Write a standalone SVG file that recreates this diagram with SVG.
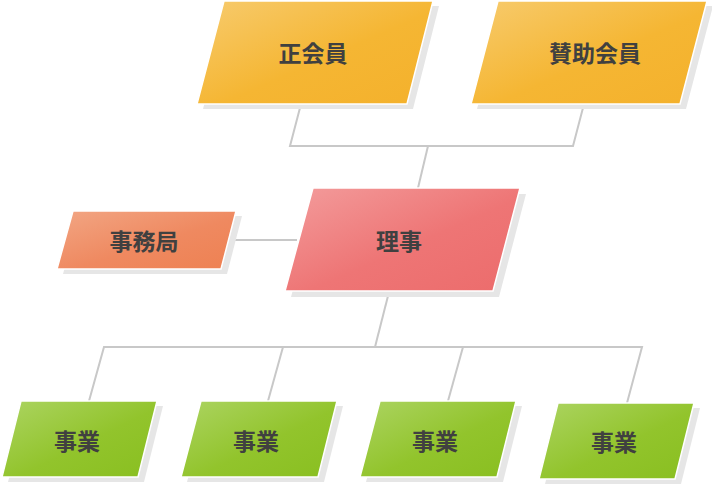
<svg xmlns="http://www.w3.org/2000/svg" width="712" height="485" viewBox="0 0 712 485">
<defs>
<linearGradient id="gY" x1="0" y1="0" x2="1" y2="1"><stop offset="0" stop-color="#f7cb6e"/><stop offset="0.55" stop-color="#f5b633"/><stop offset="1" stop-color="#f4b12c"/></linearGradient>
<linearGradient id="gR" x1="0" y1="0" x2="1" y2="1"><stop offset="0" stop-color="#f39c9c"/><stop offset="0.55" stop-color="#ee7575"/><stop offset="1" stop-color="#ec6c6c"/></linearGradient>
<linearGradient id="gO" x1="0" y1="0" x2="1" y2="1"><stop offset="0" stop-color="#f2a684"/><stop offset="0.55" stop-color="#ef8960"/><stop offset="1" stop-color="#ee8152"/></linearGradient>
<linearGradient id="gG" x1="0" y1="0" x2="1" y2="1"><stop offset="0" stop-color="#acd462"/><stop offset="0.55" stop-color="#92c42c"/><stop offset="1" stop-color="#89bf20"/></linearGradient>
</defs>
<style>
.sh{fill:#e6e6e6}
.bx{stroke:#ffffff;stroke-width:1.5}
.t{font-family:"Noto Sans CJK JP","Noto Sans",sans-serif;font-weight:bold;font-size:23px;fill:#404040;text-anchor:middle;dominant-baseline:central}
.c{fill:none;stroke:#c8c8c8;stroke-width:2}
</style>
<g id="connectors">
<polyline class="c" points="301,104 290,146 573,146 584,104"/>
<line class="c" x1="428" y1="146" x2="418" y2="188"/>
<line class="c" x1="229" y1="240" x2="297" y2="240"/>
<line class="c" x1="389" y1="292" x2="375" y2="347"/>
<polyline class="c" points="89,401 104,347 642,347 627,403"/>
<line class="c" x1="283" y1="347" x2="268" y2="401"/>
<line class="c" x1="463" y1="347" x2="448" y2="401"/>
</g>
<g id="n-seikaiin">
<polygon class="sh" points="230,6 439,6 413,109 203,109"/>
<polygon class="bx" fill="url(#gY)" points="224,1 433,1 407,104 197,104"/>
<text class="t" x="313" y="52">正会員</text>
</g>
<g id="n-sanjo">
<polygon class="sh" points="504,6 713,6 686,109 477,109"/>
<polygon class="bx" fill="url(#gY)" points="498,1 707,1 680,104 471,104"/>
<text class="t" x="595" y="52">賛助会員</text>
</g>
<g id="n-riji">
<polygon class="sh" points="319,194 526,194 499,297 291,297"/>
<polygon class="bx" fill="url(#gR)" points="313,188 520,188 493,291 285,291"/>
<text class="t" x="399" y="240">理事</text>
</g>
<g id="n-jimukyoku">
<polygon class="sh" points="79,216 242,216 227,274 63,274"/>
<polygon class="bx" fill="url(#gO)" points="73,211 236,211 221,269 57,269"/>
<text class="t" x="144" y="240">事務局</text>
</g>
<g id="n-jigyo1">
<polygon class="sh" points="27,406 163,406 144,482 8,482"/>
<polygon class="bx" fill="url(#gG)" points="21,401 157,401 138,477 2,477"/>
<text class="t" x="77" y="440">事業</text>
</g>
<g id="n-jigyo2">
<polygon class="sh" points="207,406 343,406 324,482 187,482"/>
<polygon class="bx" fill="url(#gG)" points="201,401 337,401 318,477 181,477"/>
<text class="t" x="256" y="440">事業</text>
</g>
<g id="n-jigyo3">
<polygon class="sh" points="386,406 522,406 503,482 366,482"/>
<polygon class="bx" fill="url(#gG)" points="380,401 516,401 497,477 360,477"/>
<text class="t" x="435" y="440">事業</text>
</g>
<g id="n-jigyo4">
<polygon class="sh" points="564,408 700,408 681,484 545,484"/>
<polygon class="bx" fill="url(#gG)" points="558,403 694,403 675,479 539,479"/>
<text class="t" x="614" y="441">事業</text>
</g>
</svg>
